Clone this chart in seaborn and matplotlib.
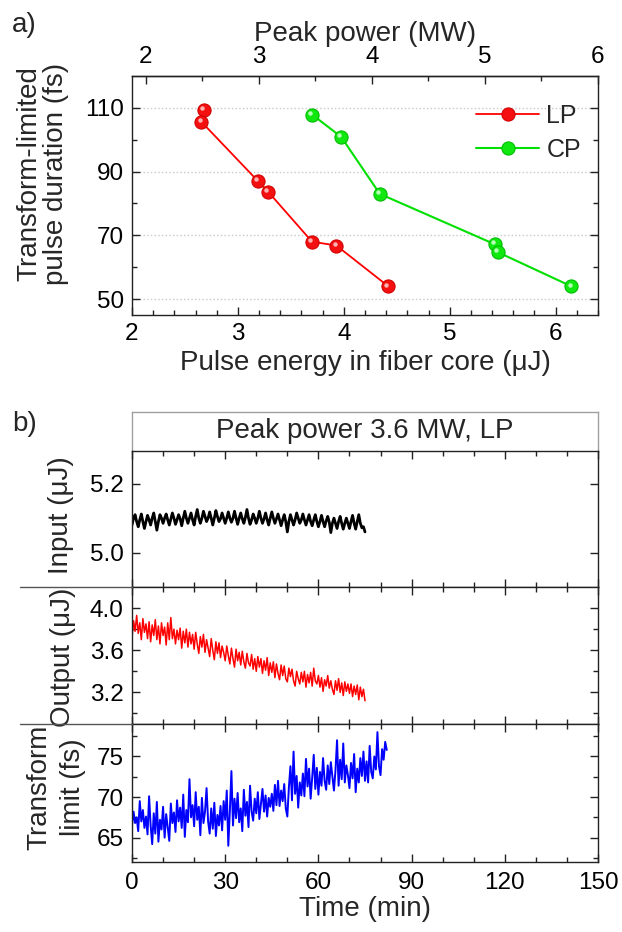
import numpy as np
import pandas as pd
import seaborn as sns
import matplotlib
matplotlib.use('Agg')
from matplotlib import pyplot as plt
from matplotlib import transforms
from matplotlib.lines import Line2D
from matplotlib.ticker import MultipleLocator

# ---- panel a: pulse duration vs energy ----
lp_energy = [2.68, 2.656, 3.19, 3.285, 3.70, 3.93, 4.42]
lp_duration = [109.3, 105.6, 87.0, 83.7, 68.0, 66.8, 54.0]
cp_energy = [3.70, 3.975, 4.34, 5.425, 5.455, 6.148]
cp_duration = [107.9, 100.9, 83.0, 67.2, 64.7, 54.0]
energy_per_mw = 1.066  # uJ per MW, for the top axis

# ---- panel b: long-term traces, sampled every 0.5 min ----
sample_step = 0.5
input_uj = [
    5.08, 5.10, 5.11, 5.09, 5.075, 5.095, 5.112, 5.09, 5.07, 5.09, 5.108, 5.095, 5.08, 5.10, 5.115, 5.09, 5.065, 5.09, 5.11, 5.10,
    5.085, 5.10, 5.112, 5.095, 5.08, 5.098, 5.115, 5.10, 5.082, 5.095, 5.11, 5.098, 5.078, 5.10, 5.12, 5.10, 5.085, 5.10, 5.115, 5.095,
    5.08, 5.105, 5.125, 5.10, 5.085, 5.10, 5.12, 5.105, 5.09, 5.10, 5.118, 5.10, 5.08, 5.10, 5.122, 5.105, 5.09, 5.098, 5.115, 5.10,
    5.085, 5.10, 5.118, 5.10, 5.088, 5.10, 5.12, 5.10, 5.082, 5.10, 5.115, 5.098, 5.085, 5.102, 5.125, 5.10, 5.082, 5.095, 5.112, 5.10,
    5.085, 5.10, 5.12, 5.10, 5.085, 5.098, 5.115, 5.095, 5.08, 5.10, 5.118, 5.10, 5.085, 5.098, 5.112, 5.095, 5.078, 5.095, 5.11, 5.09,
    5.06, 5.09, 5.11, 5.095, 5.08, 5.095, 5.115, 5.10, 5.085, 5.095, 5.112, 5.095, 5.08, 5.095, 5.11, 5.09, 5.078, 5.095, 5.11, 5.09,
    5.075, 5.09, 5.108, 5.09, 5.075, 5.092, 5.105, 5.088, 5.058, 5.085, 5.10, 5.085, 5.07, 5.09, 5.105, 5.085, 5.068, 5.085, 5.10, 5.085,
    5.07, 5.09, 5.108, 5.085, 5.068, 5.09, 5.11, 5.085, 5.072, 5.075, 5.06,
]
output_uj = [
    3.72, 3.88, 3.78, 3.93, 3.76, 3.86, 3.70, 3.90, 3.77, 3.85,
    3.71, 3.87, 3.68, 3.84, 3.74, 3.89, 3.70, 3.83, 3.66, 3.86,
    3.74, 3.82, 3.65, 3.86, 3.70, 3.91, 3.71, 3.80, 3.66, 3.79,
    3.70, 3.81, 3.62, 3.78, 3.67, 3.80, 3.63, 3.77, 3.66, 3.75,
    3.61, 3.77, 3.66, 3.57, 3.73, 3.63, 3.75, 3.58, 3.70, 3.62,
    3.54, 3.71, 3.60, 3.51, 3.68, 3.57, 3.67, 3.53, 3.64, 3.58,
    3.50, 3.64, 3.55, 3.47, 3.62, 3.52, 3.44, 3.61, 3.50, 3.58,
    3.46, 3.59, 3.49, 3.43, 3.57, 3.48, 3.45, 3.56, 3.42, 3.52,
    3.40, 3.54, 3.44, 3.52, 3.38, 3.50, 3.41, 3.53, 3.36, 3.48,
    3.39, 3.49, 3.34, 3.47, 3.38, 3.32, 3.46, 3.36, 3.45, 3.33,
    3.30, 3.43, 3.35, 3.42, 3.31, 3.26, 3.40, 3.33, 3.28, 3.39,
    3.30, 3.40, 3.25, 3.37, 3.29, 3.39, 3.26, 3.43, 3.31, 3.28,
    3.36, 3.25, 3.34, 3.21, 3.32, 3.26, 3.36, 3.24, 3.31, 3.23,
    3.18, 3.31, 3.22, 3.33, 3.20, 3.29, 3.17, 3.30, 3.21, 3.28,
    3.19, 3.28, 3.16, 3.26, 3.18, 3.27, 3.13, 3.25, 3.16, 3.23,
    3.12,
]
tl_fs = [
    66.5, 68.2, 66.8, 67.5, 65.8, 69.5, 67.0, 68.4, 66.2, 67.6,
    65.4, 70.1, 66.5, 64.2, 68.0, 65.5, 69.4, 64.5, 67.2, 66.0,
    68.8, 65.0, 67.9, 66.3, 64.6, 69.2, 66.8, 68.1, 65.7, 69.6,
    67.0, 68.7, 66.2, 70.3, 65.1, 68.4, 66.9, 72.2, 67.5, 69.0,
    66.4, 70.6, 67.2, 68.8, 65.3, 69.9, 66.8, 68.2, 71.1, 67.0,
    65.5, 68.6, 66.1, 69.3, 65.2, 67.8, 66.5, 68.9, 65.9, 69.5,
    67.2, 70.8, 64.0, 68.3, 73.2, 66.5, 69.8, 67.4, 70.5, 66.9,
    68.6, 65.8, 70.9, 67.7, 69.4, 66.3, 71.4, 68.2, 67.1, 69.8,
    68.0, 70.6, 67.3, 69.1, 71.0, 68.2, 70.2, 67.6, 69.9, 68.8,
    70.4, 68.3, 71.5, 69.0, 72.0, 68.9, 70.8, 69.5, 71.6, 68.6,
    67.6, 71.2, 73.8, 69.6, 75.6, 70.4, 72.6, 68.7, 71.8, 70.2,
    72.9, 70.1, 74.7, 71.3, 73.5, 69.8, 72.4, 75.2, 71.0, 73.6,
    70.3, 73.1, 71.4, 74.8, 72.0, 70.9, 73.9, 71.6, 74.3, 72.5,
    70.8, 73.3, 77.0, 71.4, 74.6, 72.2, 76.6, 71.8, 73.9, 72.7,
    71.1, 74.2, 72.3, 75.3, 70.6, 73.5, 71.8, 74.8, 72.6, 75.6,
    72.0, 74.4, 71.8, 76.3, 73.1, 72.3, 75.0, 73.4, 78.0, 73.8,
    72.7, 75.9, 74.6, 76.8, 75.8,
]

sns.set_theme(style='ticks')
plt.rcParams['font.family'] = ['Liberation Sans', 'DejaVu Sans']
plt.rcParams['axes.linewidth'] = 1.0
plt.rcParams['axes.edgecolor'] = '#222222'

W, H = 622, 932
fig = plt.figure(figsize=(W / 100, H / 100), dpi=100)
TICK = 17.5
LAB = 20

# ================= panel a =================
ax_a = fig.add_axes([132 / W, 1 - 315 / H, 466 / W, 239 / H])
sns.lineplot(x=lp_energy, y=lp_duration, sort=False, estimator=None, ax=ax_a,
             color='#ff0000', lw=1.3, marker='o', markersize=9.5,
             markerfacecolor='#f41010', markeredgecolor='#d00000', label='LP')
sns.lineplot(x=cp_energy, y=cp_duration, sort=False, estimator=None, ax=ax_a,
             color='#00e000', lw=1.5, marker='o', markersize=9.5,
             markerfacecolor='#10e810', markeredgecolor='#00bb00', label='CP')
# small shine on the balls
shine = transforms.offset_copy(ax_a.transData, fig=fig, x=-1.3, y=1.3, units='points')
ax_a.plot(lp_energy, lp_duration, ls='none', marker='o', ms=3.2, color='#ffb4b4', mew=0, transform=shine)
ax_a.plot(cp_energy, cp_duration, ls='none', marker='o', ms=3.2, color='#b8ffb8', mew=0, transform=shine)

ax_a.set_xlim(2, 6.4)
ax_a.set_ylim(45, 120)
ax_a.xaxis.set_major_locator(MultipleLocator(1))
ax_a.xaxis.set_minor_locator(MultipleLocator(0.2))
ax_a.set_yticks([50, 70, 90, 110])
ax_a.set_yticks([60, 80, 100], minor=True)
ax_a.yaxis.grid(True, ls=':', color='#c8c8c8', lw=1)
ax_a.xaxis.grid(False)
ax_a.tick_params(which='both', direction='in', left=True, right=True, bottom=True, top=False,
                 labelsize=TICK, colors='#222222', labelcolor='black')
ax_a.tick_params(which='major', length=6, width=1)
ax_a.tick_params(which='minor', length=3.5, width=1)
ax_a.tick_params(axis='x', pad=6)
ax_a.tick_params(axis='y', pad=6)
ax_a.set_xlabel('Pulse energy in fiber core (μJ)', fontsize=LAB, labelpad=3)
ax_a.set_ylabel('Transform-limited\npulse duration (fs)', fontsize=LAB, linespacing=1.05)
ax_a.yaxis.set_label_coords(-0.135, 0.59)

top = ax_a.secondary_xaxis('top', functions=(lambda e: e / energy_per_mw, lambda p: p * energy_per_mw))
top.set_xticks([2, 3, 4, 5, 6])
top.xaxis.set_minor_locator(MultipleLocator(0.5))
top.tick_params(which='both', direction='in', labelsize=TICK, pad=6, colors='#222222', labelcolor='black')
top.tick_params(which='major', length=6, width=1)
top.tick_params(which='minor', length=3.5, width=1)
top.set_xlabel('Peak power (MW)', fontsize=LAB, labelpad=3)

ax_a.legend(loc='upper right', bbox_to_anchor=(0.985, 0.925), borderaxespad=0, frameon=False,
            fontsize=18, labelspacing=0.4, handlelength=2.5, handletextpad=0.3)

fig.text(12 / W, 1 - 25 / H, 'a)', fontsize=LAB, va='center', ha='left')

# ================= panel b =================
ax_t = fig.add_axes([132 / W, 1 - 451 / H, 466 / W, 39 / H])
ax_t.set_xticks([])
ax_t.set_yticks([])
for side in ['top', 'left', 'right']:
    ax_t.spines[side].set_color('#a0a0a0')
ax_t.spines['bottom'].set_visible(False)
ax_t.text(0.5, 0.5, 'Peak power 3.6 MW, LP', transform=ax_t.transAxes,
          ha='center', va='center', fontsize=LAB)
fig.text(12 / W, 1 - 424 / H, 'b)', fontsize=LAB, va='center', ha='left')

boxes = [(451, 587), (587, 724), (724, 862)]
axs = []
for y0, y1 in boxes:
    axs.append(fig.add_axes([132 / W, 1 - y1 / H, 466 / W, (y1 - y0) / H]))
ax_in, ax_out, ax_tl = axs

sns.lineplot(x=np.arange(len(input_uj)) * sample_step, y=input_uj, ax=ax_in, color='black', lw=2.0)
sns.lineplot(x=np.arange(len(output_uj)) * sample_step, y=output_uj, ax=ax_out, color='#ff0000', lw=1.1)
sns.lineplot(x=np.arange(len(tl_fs)) * sample_step, y=tl_fs, ax=ax_tl, color='#0000ff', lw=1.4)

ax_in.set_ylim(4.9, 5.295)
ax_in.set_yticks([5.0, 5.2])
ax_in.set_yticklabels(['5.0', '5.2'])
ax_out.set_ylim(2.9, 4.2)
ax_out.set_yticks([3.2, 3.6, 4.0])
ax_out.set_yticks([3.0, 3.4, 3.8], minor=True)
ax_out.set_yticklabels(['3.2', '3.6', '4.0'])
ax_tl.set_ylim(62, 79)
ax_tl.set_yticks([65, 70, 75])
ax_tl.set_yticks([62.5, 67.5, 72.5, 77.5], minor=True)

for ax in axs:
    ax.set_xlim(0, 150)
    ax.xaxis.set_major_locator(MultipleLocator(30))
    ax.xaxis.set_minor_locator(MultipleLocator(10))
    ax.tick_params(which='both', direction='in', left=True, right=True, top=True, bottom=True,
                   labelsize=TICK, colors='#222222', labelcolor='black')
    ax.tick_params(which='major', length=6, width=1)
    ax.tick_params(which='minor', length=3.5, width=1)
    ax.tick_params(axis='y', pad=6)
    ax.tick_params(axis='x', pad=7)
    ax.set_xlabel('')
    if ax is not ax_tl:
        ax.tick_params(labelbottom=False)

ax_in.set_ylabel('Input (μJ)', fontsize=LAB)
ax_in.yaxis.set_label_coords(-0.125, 0.53)
ax_out.set_ylabel('Output (μJ)', fontsize=LAB)
ax_out.yaxis.set_label_coords(-0.12, 0.49)
ax_tl.set_ylabel('Transform\nlimit (fs)', fontsize=LAB, linespacing=1.4)
ax_tl.yaxis.set_label_coords(-0.098, 0.54)
ax_tl.set_xlabel('Time (min)', fontsize=LAB, labelpad=2)

# layer separators reaching into the label column
for yy in [587, 724]:
    fig.add_artist(Line2D([20 / W, 132 / W], [1 - yy / H, 1 - yy / H],
                          transform=fig.transFigure, color='#555555', lw=1.0))

fig.savefig('out.png', dpi=100)
